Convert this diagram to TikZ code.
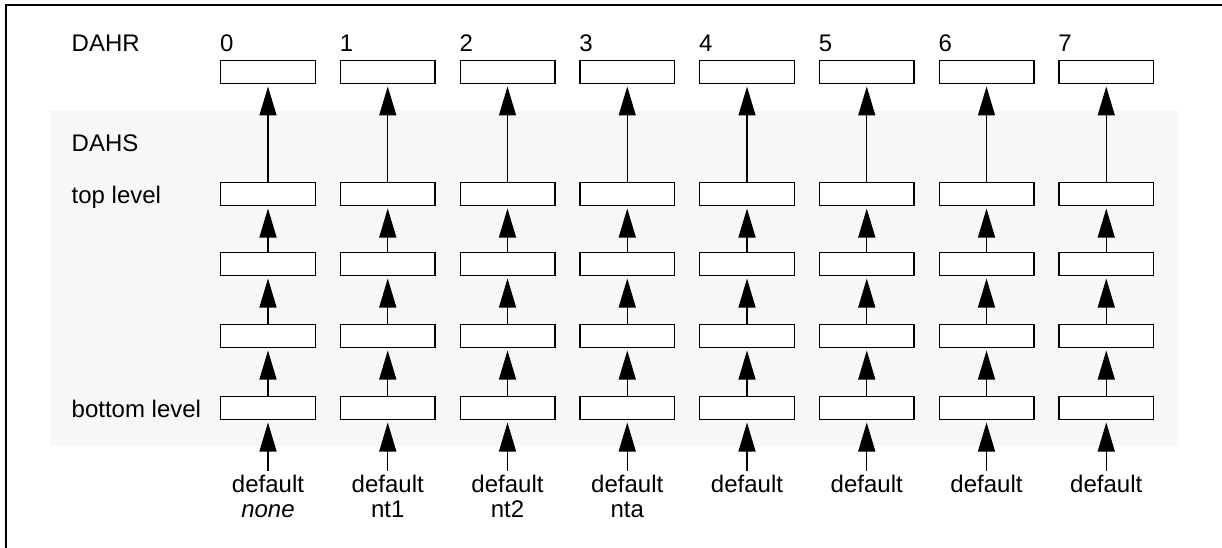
\documentclass[tikz,border=0pt]{standalone}
\usepackage{fontspec}
\setmainfont{Liberation Sans}
\usetikzlibrary{arrows.meta}
\definecolor{bgshade}{RGB}{247,247,247}
\begin{document}
\begin{tikzpicture}[x=1pt,y=-1pt,
  cell/.style={draw,line width=1.3pt,fill=white,minimum width=94.7pt,minimum height=22.7pt,inner sep=0pt},
  up/.style={line width=1.3pt,-{Triangle[length=29pt,width=17pt]},shorten >=2.5pt},
  lab/.style={font=\fontsize{24}{25}\selectfont,inner sep=0pt}]
\useasboundingbox (0,0) rectangle (1222,548);
\fill[bgshade] (50,110) rectangle (1178,446);
\draw[line width=1.3pt] (6,548) -- (6,5) -- (1222,5);
\node[lab,anchor=base west] (tDAHR) at (71.5,52) {DAHR};
\node[lab,anchor=base west] (tDAHS) at (71.5,152) {DAHS};
\node[lab,anchor=base west] (ttop) at (71.5,204) {top level};
\node[lab,anchor=base west] (tbot) at (71.5,417) {bottom level};
\foreach \i in {0,...,7} {
  \pgfmathsetmacro\cx{268+119.75*\i}
  \node[cell] (r\i) at (\cx,72) {};
  \node[cell] (a\i) at (\cx,194) {};
  \node[cell] (b\i) at (\cx,264) {};
  \node[cell] (c\i) at (\cx,336) {};
  \node[cell] (d\i) at (\cx,408) {};
  \node[lab,anchor=base west] (n\i) at (\cx-48,52) {\i};
  \node[lab,anchor=base] (l\i) at (\cx,492) {default};
  \draw[up] (a\i.north) -- (r\i.south);
  \draw[up] (b\i.north) -- (a\i.south);
  \draw[up] (c\i.north) -- (b\i.south);
  \draw[up] (d\i.north) -- (c\i.south);
  \draw[up] ([yshift=3.5pt]l\i.north) -- (d\i.south);
}
\foreach \i/\sub in {0/{\itshape none},1/nt1,2/nt2,3/nta} {
  \pgfmathsetmacro\cx{268+119.75*\i}
  \node[lab,anchor=base] (m\i) at (\cx,517) {\sub};
}
\end{tikzpicture}
\end{document}
